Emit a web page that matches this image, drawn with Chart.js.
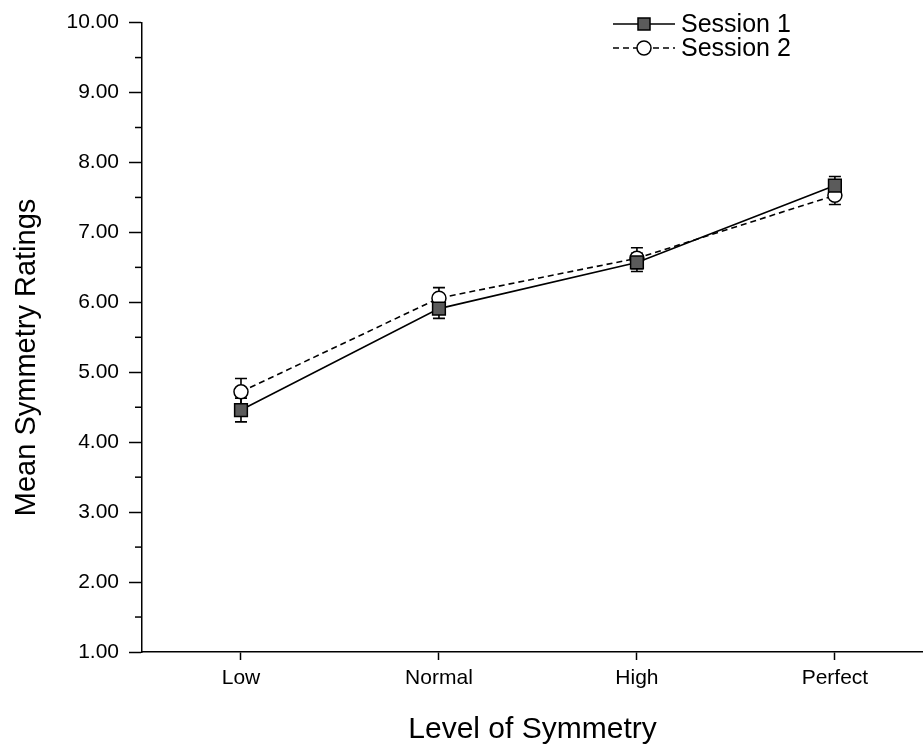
<!DOCTYPE html>
<html>
<head>
<meta charset="utf-8">
<title>Mean Symmetry Ratings</title>
<script src="https://cdn.jsdelivr.net/npm/chart.js@4.4.1/dist/chart.umd.min.js"></script>
<style>
  html, body { margin: 0; padding: 0; background: #fff; overflow: hidden; }
  #wrap { width: 923px; height: 752px; }
</style>
</head>
<body>
<div id="wrap"><canvas id="chart-sym" width="923" height="752"></canvas></div>
<script>
// categories + values
const levels = ['Low', 'Normal', 'High', 'Perfect'];
const session1 = [4.46, 5.91, 6.57, 7.67];
const session1Err = [0.17, 0.14, 0.13, 0.13];
const session2 = [4.72, 6.06, 6.63, 7.53];
const session2Err = [0.19, 0.15, 0.15, 0.13];
const yTicks = [1, 2, 3, 4, 5, 6, 7, 8, 9, 10];
const yMinorTicks = [1.5, 2.5, 3.5, 4.5, 5.5, 6.5, 7.5, 8.5, 9.5];

const FONT = "'Liberation Sans', Arial, sans-serif";

function toPoints(vals) {
  return vals.map((v, i) => ({ x: i + 1, y: v }));
}

// error bars, drawn under the markers
const errorBars = {
  id: 'errorBars',
  beforeDatasetsDraw(chart) {
    const { ctx, scales: { x, y } } = chart;
    const errs = [session1Err, session2Err];
    ctx.save();
    ctx.strokeStyle = '#000';
    ctx.lineWidth = 1.6;
    chart.data.datasets.forEach((ds, di) => {
      ds.data.forEach((p, i) => {
        const px = x.getPixelForValue(p.x);
        const top = y.getPixelForValue(p.y + errs[di][i]);
        const bot = y.getPixelForValue(p.y - errs[di][i]);
        ctx.beginPath();
        ctx.moveTo(px, top); ctx.lineTo(px, bot);
        ctx.moveTo(px - 6, top); ctx.lineTo(px + 6, top);
        ctx.moveTo(px - 6, bot); ctx.lineTo(px + 6, bot);
        ctx.stroke();
      });
    });
    ctx.restore();
  }
};

// short minor ticks on the y axis
const minorTicks = {
  id: 'minorTicks',
  afterDraw(chart) {
    const { ctx, scales: { y } } = chart;
    ctx.save();
    ctx.strokeStyle = '#000';
    ctx.lineWidth = 1.5;
    yMinorTicks.forEach(v => {
      const py = y.getPixelForValue(v);
      ctx.beginPath();
      ctx.moveTo(y.right - 7, py);
      ctx.lineTo(y.right, py);
      ctx.stroke();
    });
    ctx.restore();
  }
};

// legend with line sample + marker, top right
const lineLegend = {
  id: 'lineLegend',
  afterDraw(chart) {
    const { ctx } = chart;
    const x0 = 613, w = 62;
    const rows = [24, 48];
    ctx.save();
    chart.data.datasets.forEach((ds, i) => {
      const yy = rows[i];
      ctx.strokeStyle = '#000';
      ctx.lineWidth = 1.5;
      ctx.setLineDash(ds.borderDash || []);
      ctx.beginPath();
      ctx.moveTo(x0, yy); ctx.lineTo(x0 + w, yy);
      ctx.stroke();
      ctx.setLineDash([]);
      const cx = x0 + w / 2;
      ctx.fillStyle = ds.pointBackgroundColor;
      ctx.beginPath();
      if (ds.pointStyle === 'rect') {
        ctx.rect(cx - 6, yy - 6, 12, 12);
      } else {
        ctx.arc(cx, yy, 7, 0, Math.PI * 2);
      }
      ctx.fill();
      ctx.stroke();
      ctx.fillStyle = '#000';
      ctx.font = '25px ' + FONT;
      ctx.textBaseline = 'middle';
      ctx.textAlign = 'left';
      ctx.fillText(ds.label, x0 + w + 6, yy + 1);
    });
    ctx.restore();
  }
};

const ctxSym = document.getElementById('chart-sym').getContext('2d');
const symChart = new Chart(ctxSym, {
  type: 'line',
  data: {
    datasets: [
      {
        label: 'Session 1',
        data: toPoints(session1),
        borderColor: '#000',
        borderWidth: 1.6,
        pointStyle: 'rect',
        pointRadius: 9,
        pointBackgroundColor: '#5b5b5b',
        pointBorderColor: '#000',
        pointBorderWidth: 1.5,
        tension: 0
      },
      {
        label: 'Session 2',
        data: toPoints(session2),
        borderColor: '#000',
        borderWidth: 1.6,
        borderDash: [6, 4],
        pointStyle: 'circle',
        pointRadius: 7,
        pointBackgroundColor: '#fff',
        pointBorderColor: '#000',
        pointBorderWidth: 1.5,
        tension: 0
      }
    ]
  },
  options: {
    responsive: false,
    animation: false,
    devicePixelRatio: 1,
    layout: { autoPadding: false, padding: { top: 20, right: 0, left: 0, bottom: 0 } },
    plugins: { legend: { display: false }, tooltip: { enabled: false } },
    scales: {
      x: {
        type: 'linear',
        min: 0.5,
        max: 4.445,
        afterBuildTicks: s => { s.ticks = levels.map((_, i) => ({ value: i + 1 })); },
        afterFit: s => { s.height = 100; },
        ticks: {
          callback: v => levels[v - 1] || '',
          color: '#000',
          font: { family: FONT, size: 21 },
          padding: 6,
          maxRotation: 0
        },
        grid: { drawOnChartArea: false, tickLength: 8, tickColor: '#000', tickWidth: 1.5 },
        border: { display: true, color: '#000', width: 1.5 },
        title: {
          display: true,
          text: 'Level of Symmetry',
          color: '#000',
          font: { family: FONT, size: 30 },
          padding: { top: 0, bottom: 4 }
        }
      },
      y: {
        min: 1,
        max: 10,
        afterBuildTicks: s => { s.ticks = yTicks.map(v => ({ value: v })); },
        afterFit: s => { s.width = 142; },
        ticks: {
          callback: v => Number(v).toFixed(2),
          color: '#000',
          font: { family: FONT, size: 21 },
          padding: 10
        },
        grid: { drawOnChartArea: false, tickLength: 13, tickColor: '#000', tickWidth: 1.5 },
        border: { display: true, color: '#000', width: 1.5 },
        title: {
          display: true,
          // trailing spaces nudge the centred title down like the original
          text: 'Mean Symmetry Ratings     ',
          color: '#000',
          font: { family: FONT, size: 29 },
          padding: { top: 10, bottom: 0 }
        }
      }
    }
  },
  plugins: [errorBars, minorTicks, lineLegend]
});
</script>
</body>
</html>
